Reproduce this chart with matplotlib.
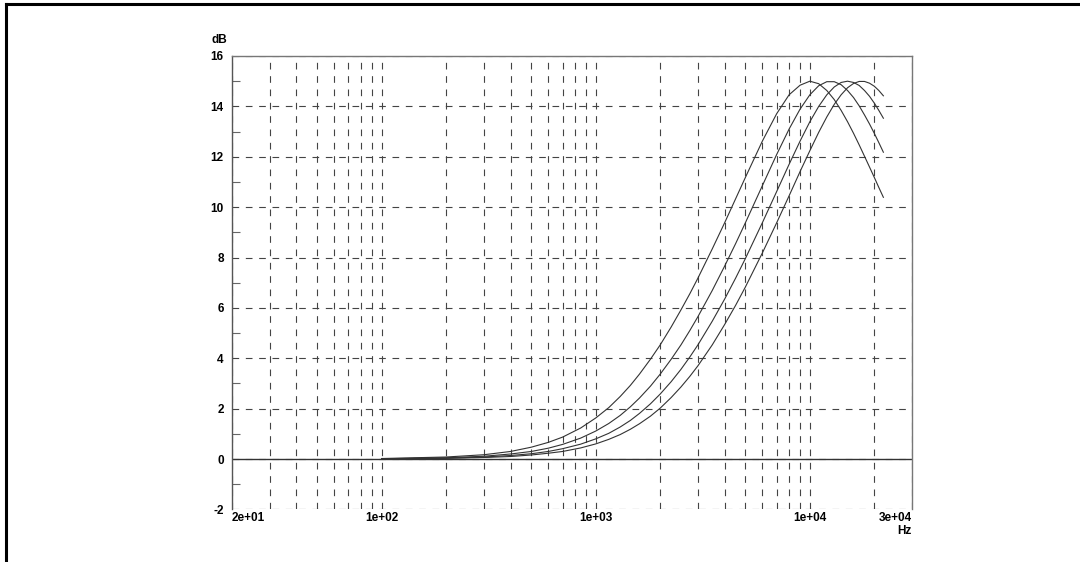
import matplotlib
matplotlib.use("Agg")
import matplotlib.pyplot as plt
from matplotlib.lines import Line2D
import numpy as np

# --- data (dB vs Hz, four bell curves, +15 dB peak) ---
freqs = [100, 200, 300, 400, 500, 600, 700, 850, 1000, 1150, 1300, 1450, 1600,
         1800, 2000, 2250, 2500, 2750, 3000, 3500, 4000, 4500, 5000, 6000, 7000,
         8000, 9000, 10000, 11000, 12000, 13000, 14000, 15000, 16000, 17000,
         18000, 19000, 20000, 21000, 22050]

curve_10k = [0.02, 0.08, 0.17, 0.30, 0.47, 0.66, 0.87, 1.23, 1.63, 2.04, 2.48, 2.92, 3.37,
             3.96, 4.53, 5.24, 5.92, 6.56, 7.18, 8.34, 9.38, 10.33, 11.18, 12.62, 13.71,
             14.46, 14.84, 15.00, 14.90, 14.63, 14.27, 13.84, 13.39, 12.93, 12.47,
             12.02, 11.59, 11.18, 10.78, 10.39]
curve_12k5 = [0.01, 0.05, 0.11, 0.20, 0.30, 0.43, 0.58, 0.83, 1.11, 1.41, 1.73, 2.07, 2.42,
              2.89, 3.37, 3.96, 4.53, 5.10, 5.65, 6.69, 7.66, 8.55, 9.38, 10.85, 12.09,
              13.10, 13.89, 14.46, 14.82, 14.98, 14.98, 14.86, 14.63, 14.35, 14.02,
              13.66, 13.30, 12.93, 12.56, 12.18]
curve_15k = [0.01, 0.03, 0.08, 0.14, 0.21, 0.30, 0.41, 0.59, 0.80, 1.02, 1.27, 1.53, 1.81,
             2.19, 2.58, 3.07, 3.56, 4.05, 4.53, 5.47, 6.35, 7.18, 7.96, 9.38, 10.62,
             11.70, 12.62, 13.39, 14.00, 14.46, 14.77, 14.95, 15.00, 14.95, 14.83,
             14.63, 14.40, 14.13, 13.84, 13.53]
curve_17k5 = [0.01, 0.03, 0.06, 0.10, 0.16, 0.23, 0.30, 0.44, 0.60, 0.78, 0.97, 1.18, 1.40,
              1.70, 2.02, 2.44, 2.86, 3.28, 3.70, 4.53, 5.34, 6.10, 6.83, 8.18, 9.38,
              10.45, 11.41, 12.24, 12.97, 13.58, 14.08, 14.46, 14.74, 14.91, 14.99,
              14.99, 14.92, 14.80, 14.63, 14.42]
curves = [curve_10k, curve_12k5, curve_15k, curve_17k5]

x_ticks = [20, 100, 1000, 10000, 30000]
x_tick_labels = ["2e+01", "1e+02", "1e+03", "1e+04", "3e+04"]
x_minor = [30, 40, 50, 60, 70, 80, 90, 200, 300, 400, 500, 600, 700, 800, 900,
           2000, 3000, 4000, 5000, 6000, 7000, 8000, 9000, 20000]
y_ticks = [-2, 0, 2, 4, 6, 8, 10, 12, 14, 16]
y_minor = [-1, 1, 3, 5, 7, 9, 11, 13, 15]

font = ["Liberation Sans Narrow", "Liberation Sans", "DejaVu Sans"]
plt.rcParams["font.family"] = font
plt.rcParams["font.stretch"] = "condensed"
label_size = 8.5

fig = plt.figure(figsize=(10.8, 5.62), dpi=100)
ax = fig.add_axes([232 / 1080, 1 - 509.4 / 562, (912 - 232) / 1080, (509.4 - 56) / 562])

grid_kw = dict(color="#444444", linestyle=(0, (6, 6)), linewidth=0.8)

for vals in curves:
    ax.plot(freqs, vals, color="#333333", lw=0.8, zorder=3)

ax.set_xscale("log")
ax.set_xlim(20, 30000)
ax.set_ylim(-2, 16)

ax.set_xticks(x_ticks)
ax.set_xticklabels(x_tick_labels, fontsize=label_size, fontweight="bold")
ax.set_xticks(x_minor, minor=True)
ax.xaxis.set_minor_formatter(plt.NullFormatter())
ax.set_yticks(y_ticks)
ax.set_yticklabels([str(v) for v in y_ticks], fontsize=label_size, fontweight="bold")
ax.set_yticks(y_minor, minor=True)

ax.tick_params(axis="x", which="both", length=0, pad=2)
ax.tick_params(axis="y", which="major", length=0, pad=6)
ax.tick_params(axis="y", which="minor", direction="in", length=6, color="#666666", width=0.8)

labels = ax.get_xticklabels()
labels[0].set_horizontalalignment("left")
labels[-1].set_horizontalalignment("right")

# dashed grid
ax.grid(True, axis="x", which="both", **grid_kw)
ax.grid(True, axis="y", which="major", **grid_kw)
ax.axhline(0, color="#333333", lw=1.0, zorder=2)

for name in ["left", "top", "right"]:
    ax.spines[name].set_color("#777777")
    ax.spines[name].set_linewidth(1.0)
ax.spines["left"].set_color("#555555")
ax.spines["bottom"].set_visible(False)

fig.text(227 / 1080, 1 - 40 / 562, "dB", ha="right", va="center",
         fontsize=label_size, fontweight="bold")
fig.text(911 / 1080, 1 - 525 / 562, "Hz", ha="right", va="top",
         fontsize=label_size, fontweight="bold")

# outer frame (only left and top edges are inside the picture)
fig.add_artist(Line2D([6 / 1080, 6 / 1080], [0, 1 - 4 / 562], transform=fig.transFigure,
                      color="black", lw=2.2))
fig.add_artist(Line2D([6 / 1080, 1], [1 - 4 / 562, 1 - 4 / 562], transform=fig.transFigure,
                      color="black", lw=2.2))

fig.savefig("out.png", dpi=100)
